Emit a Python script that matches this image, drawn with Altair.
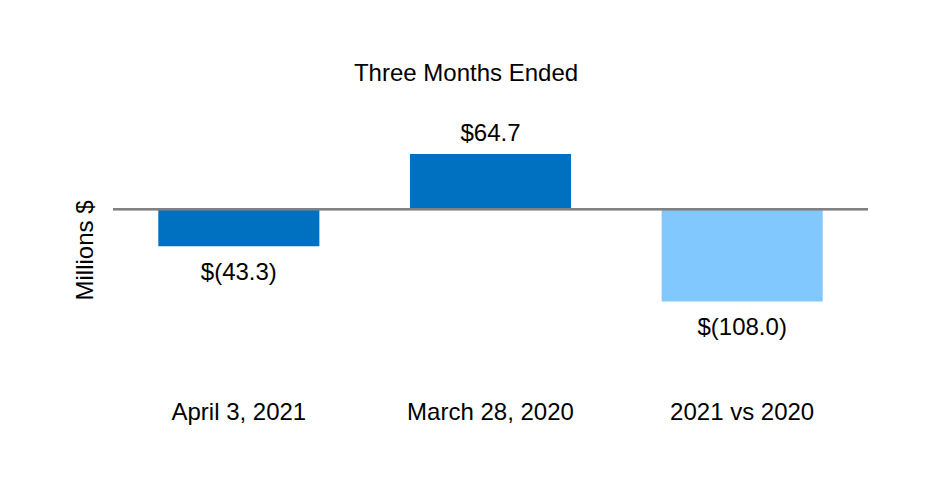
import altair as alt
import pandas as pd

categories = ["April 3, 2021", "March 28, 2020", "2021 vs 2020"]
values = [-43.3, 64.7, -108.0]
labels = ["$(43.3)", "$64.7", "$(108.0)"]
kinds = ["period", "period", "change"]

df = pd.DataFrame({"cat": categories, "val": values, "lab": labels, "kind": kinds})

FONT = "Liberation Sans"
FS = 24

x_enc = alt.X("cat:N", sort=categories,
              scale=alt.Scale(paddingInner=0.36, paddingOuter=0.18),
              axis=alt.Axis(title=None, labelAngle=0, labelFontSize=FS, labelFont=FONT,
                            labelColor="black", ticks=False, domain=False, labelPadding=20))
y_scale = alt.Scale(domain=[-200, 100], nice=False, zero=False)

base = alt.Chart(df)

bars = base.mark_bar().encode(
    x=x_enc,
    y=alt.Y("val:Q", scale=y_scale,
            axis=alt.Axis(title="Millions $", labels=False, ticks=False, domain=False, grid=False,
                          titleFont=FONT, titleFontSize=FS, titleFontWeight="normal",
                          titleColor="black", titleAngle=-90, titleX=-28, titleY=126,
                          titleAlign="center", titleBaseline="middle")),
    y2=alt.datum(0),
    color=alt.Color("kind:N", scale=alt.Scale(domain=["period", "change"],
                                               range=["#0070C0", "#80C8FF"]), legend=None),
)

zero = base.mark_rule(color="#808080", strokeWidth=2).encode(y=alt.datum(0))

pos_text = base.transform_filter("datum.val >= 0").mark_text(
    font=FONT, fontSize=FS, color="black", baseline="alphabetic", dy=-13
).encode(x=alt.X("cat:N", sort=categories), y=alt.Y("val:Q", scale=y_scale), text="lab:N")

neg_text = base.transform_filter("datum.val < 0").mark_text(
    font=FONT, fontSize=FS, color="black", baseline="alphabetic", dy=34
).encode(x=alt.X("cat:N", sort=categories), y=alt.Y("val:Q", scale=y_scale), text="lab:N")

chart = alt.layer(bars, zero, pos_text, neg_text).properties(
    width=755, height=256,
    title=alt.TitleParams("Three Months Ended", font=FONT, fontSize=FS, fontWeight="normal",
                          color="black", anchor="middle", offset=36, dx=-24.5),
    autosize=alt.AutoSizeParams(type="none"),
    padding={"left": 105, "top": 116, "right": 56, "bottom": 100},
).configure_view(stroke=None)

chart.save("out.html", embed_options={"renderer": "svg", "actions": False})
